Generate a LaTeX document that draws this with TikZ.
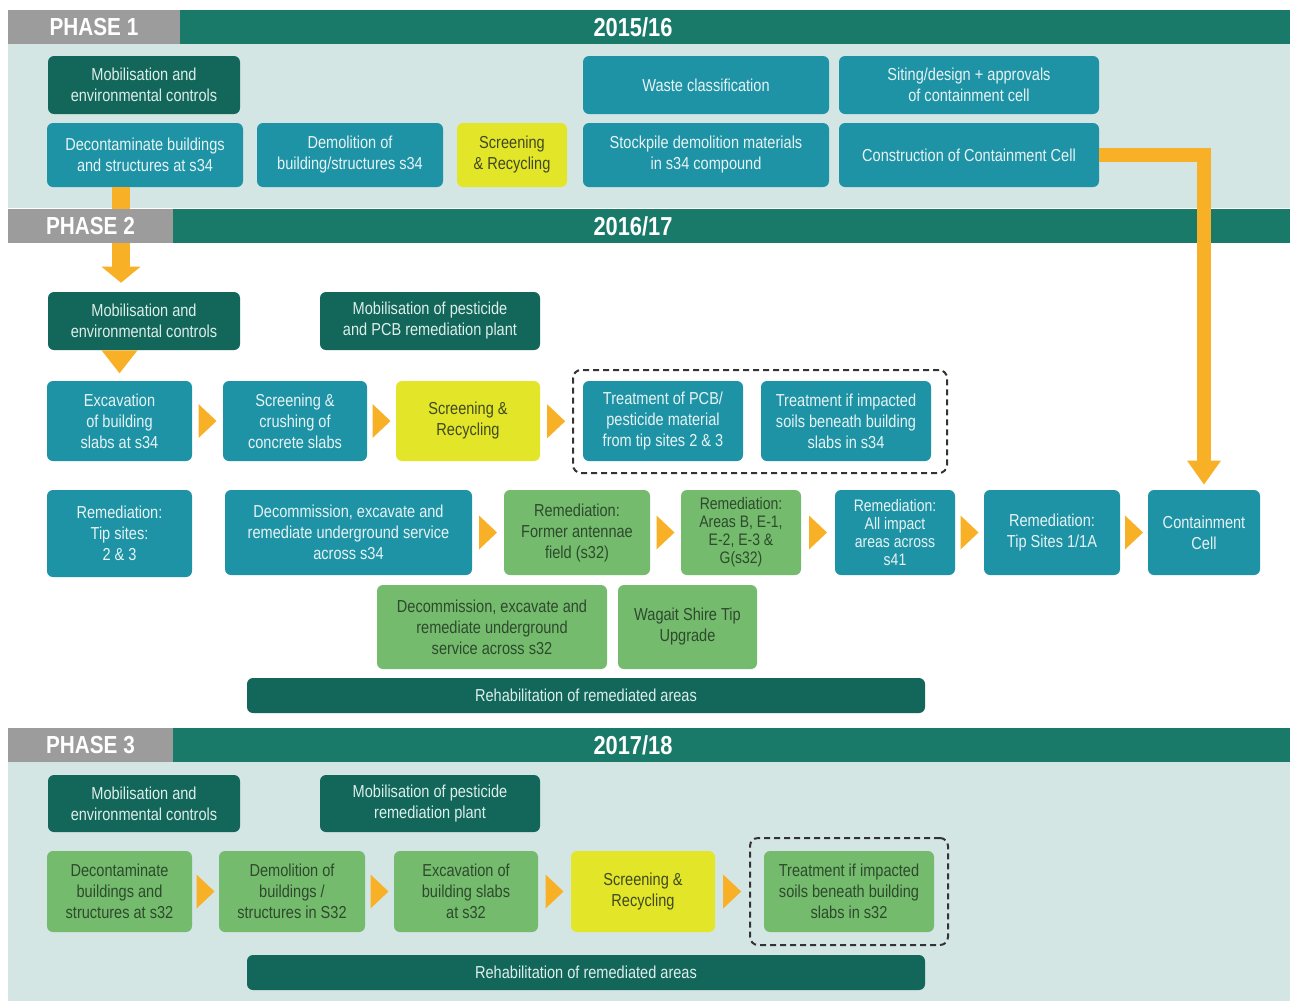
\documentclass[tikz,border=0pt]{standalone}
\usepackage{fontspec}
\setmainfont{Liberation Sans}[FakeStretch=0.84]
\usetikzlibrary{calc,arrows.meta}
\definecolor{cteal}{HTML}{1F93A6}
\definecolor{ctealtxt}{HTML}{E6F3F4}
\definecolor{cdark}{HTML}{13665A}
\definecolor{cdarktxt}{HTML}{DCEEEA}
\definecolor{cgreen}{HTML}{74BB6E}
\definecolor{cgreentxt}{HTML}{2E4A2C}
\definecolor{cyellow}{HTML}{E3E628}
\definecolor{cyellowtxt}{HTML}{3F4A22}
\definecolor{chdr}{HTML}{197A6A}
\definecolor{cgray}{HTML}{9C9C9C}
\definecolor{cbg}{HTML}{D4E6E4}
\definecolor{corange}{HTML}{F8B126}
\definecolor{cdash}{HTML}{333333}
\newcommand\mybox[7]{%
  \pgfmathsetmacro\mycx{(#3+#5)/2}%
  \pgfmathsetmacro\mycy{(#4+#6)/2}%
  \pgfmathsetmacro\myw{(#5-#3)*0.75}%
  \pgfmathsetmacro\myh{(#6-#4)*0.75}%
  \node[#1,minimum width=\myw pt,minimum height=\myh pt] (#2) at (\mycx,\mycy) {#7};}
\newcommand\rtri[2]{%
  \path (#1.east) -- (#2.west) coordinate[midway] (tmpm);
  \fill[corange] ($(tmpm)+(-9,-17)$) -- ($(tmpm)+(9,0)$) -- ($(tmpm)+(-9,17)$) -- cycle;}
\begin{document}
\begin{tikzpicture}[x=0.75pt,y=-0.75pt,
  base/.style={rounded corners=4.5pt, inner sep=0pt, align=center, font=\fontsize{13}{15.75}\selectfont},
  tealbox/.style={base, fill=cteal, text=ctealtxt},
  darkbox/.style={base, fill=cdark, text=cdarktxt},
  greenbox/.style={base, fill=cgreen, text=cgreentxt},
  yellowbox/.style={base, fill=cyellow, text=cyellowtxt},
  tight/.style={font=\fontsize{12.5}{13.5}\selectfont},
  dashbox/.style={draw=cdash, line width=1.5pt, rounded corners=6pt, dash pattern=on 4.5pt off 3pt, inner sep=0pt},
  hdrbar/.style={fill=chdr, inner sep=0pt},
  hdrgray/.style={fill=cgray, inner sep=0pt, text=white, font=\fontsize{18.5}{20}\selectfont\bfseries},
  yeartxt/.style={text=white, inner sep=0pt, font=\fontsize{19.5}{21}\selectfont\bfseries},
  bigarrow/.style={corange, line width=10.5pt},
]
\useasboundingbox (0,0) rectangle (1298,1001);
\fill[white] (0,0) rectangle (1298,1001);
% backgrounds
\fill[cbg] (8,44) rectangle (1290,208);
\fill[cbg] (8,762) rectangle (1290,1001);

% Phase 1 boxes
\mybox{darkbox}{mob1}{48}{56}{240}{114}{Mobilisation and\\environmental controls}
\mybox{tealbox}{decon}{47}{123}{243}{187}{Decontaminate buildings\\and structures at s34}
\mybox{tealbox}{demol}{257}{123}{443}{187}{Demolition of\\building/structures s34}
\mybox{yellowbox}{scr1}{457}{123}{567}{187}{Screening\\\& Recycling}
\mybox{tealbox}{waste}{583}{56}{829}{114}{Waste classification}
\mybox{tealbox}{stock}{583}{123}{829}{187}{Stockpile demolition materials\\in s34 compound}
\mybox{tealbox}{siting}{839}{56}{1099}{114}{Siting/design + approvals\\of containment cell}
\mybox{tealbox}{constr}{839}{123}{1099}{187}{Construction of Containment Cell}

% Phase 2 boxes
\mybox{darkbox}{mob2}{48}{292}{240}{350}{Mobilisation and\\environmental controls}
\mybox{darkbox}{mobpest}{320}{292}{540}{350}{Mobilisation of pesticide\\and PCB remediation plant}

% bar behind the Phase 2 header
\draw[corange, line width=13.5pt, -{Triangle[width=28.5pt,length=12pt]}] ([xshift=-18pt]decon.south) -- ($([xshift=-18pt]decon.south |- mob2.north)+(0,-9)$);

% headers
\mybox{hdrbar}{bar1}{8}{10}{1290}{44}{}
\mybox{hdrgray}{ph1}{8}{10}{180}{44}{PHASE 1}
\node[yeartxt] (yr1) at (633,27) {2015/16};
\mybox{hdrbar}{bar2}{8}{209}{1290}{243}{}
\mybox{hdrgray}{ph2}{8}{209}{173}{243}{PHASE 2}
\node[yeartxt] (yr2) at (633,226) {2016/17};
\mybox{hdrbar}{bar3}{8}{728}{1290}{762}{}
\mybox{hdrgray}{ph3}{8}{728}{173}{762}{PHASE 3}
\node[yeartxt] (yr3) at (633,745) {2017/18};

\mybox{tealbox}{excav}{47}{381}{192}{461}{Excavation\\of building\\slabs at s34}
\mybox{tealbox}{scrcrush}{223}{381}{367}{461}{Screening \&\\crushing of\\concrete slabs}
\mybox{yellowbox}{scr2}{396}{381}{540}{461}{Screening \&\\Recycling}
\mybox{dashbox}{dash2}{573}{370}{947}{473}{}
\mybox{tealbox}{treatpcb}{583}{381}{743}{461}{Treatment of PCB/\\pesticide material\\from tip sites 2 \& 3}
\mybox{tealbox}{treatsoil}{761}{381}{931}{461}{Treatment if impacted\\soils beneath building\\slabs in s34}

\mybox{tealbox}{remtip}{47}{490}{192}{577}{Remediation:\\Tip sites:\\2 \& 3}
\mybox{tealbox}{decomm34}{225}{490}{472}{575}{Decommission, excavate and\\remediate underground service\\across s34}
\mybox{greenbox}{remformer}{504}{490}{650}{575}{Remediation:\\Former antennae\\field (s32)}
\mybox{greenbox,tight}{remareas}{681}{490}{801}{575}{Remediation:\\Areas B, E-1,\\E-2, E-3 \&\\G(s32)}
\mybox{tealbox,tight}{remall}{835}{490}{955}{575}{Remediation:\\All impact\\areas across\\s41}
\mybox{tealbox}{remtip1}{984}{490}{1120}{575}{Remediation:\\Tip Sites 1/1A}
\mybox{tealbox}{contain}{1148}{490}{1260}{575}{Containment\\Cell}
\mybox{greenbox}{decomm32}{377}{585}{607}{669}{Decommission, excavate and\\remediate underground\\service across s32}
\mybox{greenbox}{wagait}{618}{585}{757}{669}{Wagait Shire Tip\\Upgrade}
\mybox{darkbox}{rehab2}{247}{678}{925}{713}{Rehabilitation of remediated areas}

% Phase 3
\mybox{darkbox}{mob3}{48}{775}{240}{832}{Mobilisation and\\environmental controls}
\mybox{darkbox}{mobpest3}{320}{775}{540}{832}{Mobilisation of pesticide\\remediation plant}
\mybox{greenbox}{decon3}{47}{851}{192}{932}{Decontaminate\\buildings and\\structures at s32}
\mybox{greenbox}{demol3}{219}{851}{365}{932}{Demolition of\\buildings /\\structures in S32}
\mybox{greenbox}{excav3}{394}{851}{538}{932}{Excavation of\\building slabs\\at s32}
\mybox{yellowbox}{scr3}{571}{851}{715}{932}{Screening \&\\Recycling}
\mybox{dashbox}{dash3}{750}{838}{948}{945}{}
\mybox{greenbox}{treat3}{764}{851}{934}{932}{Treatment if impacted\\soils beneath building\\slabs in s32}
\mybox{darkbox}{rehab3}{247}{955}{925}{990}{Rehabilitation of remediated areas}

% connectors
\draw[bigarrow, -{Triangle[width=24pt,length=18pt]}] (constr.east) -- (constr.east -| contain.north) -- ([yshift=3.75pt]contain.north);
\fill[corange] ($(mob2.south -| excav.north)+(-18,0)$) -- ($(mob2.south -| excav.north)+(18,0)$) -- ($(mob2.south -| excav.north)+(0,23)$) -- cycle;
\rtri{excav}{scrcrush}
\rtri{scrcrush}{scr2}
\rtri{scr2}{dash2}
\rtri{decomm34}{remformer}
\rtri{remformer}{remareas}
\rtri{remareas}{remall}
\rtri{remall}{remtip1}
\rtri{remtip1}{contain}
\rtri{decon3}{demol3}
\rtri{demol3}{excav3}
\rtri{excav3}{scr3}
\rtri{scr3}{dash3}
\end{tikzpicture}
\end{document}
